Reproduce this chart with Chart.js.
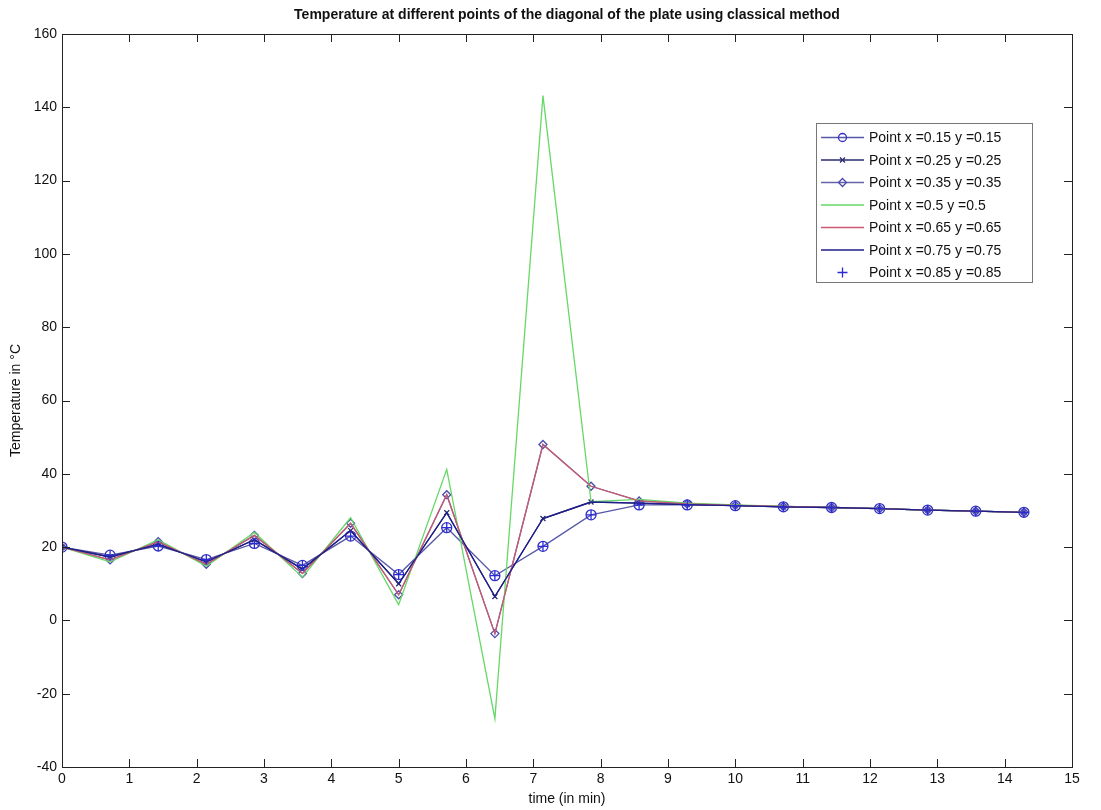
<!DOCTYPE html>
<html>
<head>
<meta charset="utf-8">
<title>Temperature at different points of the diagonal</title>
<script src="https://cdn.jsdelivr.net/npm/chart.js"></script>
<style>
  html, body { margin: 0; padding: 0; background: #fff; }
  #wrap { width: 1101px; height: 810px; }
</style>
</head>
<body>
<div id="wrap"><canvas id="plot" width="1101" height="810"></canvas></div>
<script>
// time axis (min)
const times = [0, 0.714, 1.429, 2.143, 2.857, 3.571, 4.286, 5, 5.714, 6.429, 7.143,
  7.857, 8.571, 9.286, 10, 10.714, 11.429, 12.143, 12.857, 13.571, 14.286];

// temperatures (°C)
const p015 = [20, 17.8, 20.3, 16.6, 21.0, 15.0, 23.0, 12.5, 25.3, 12.2, 20.2,
  28.8, 31.5, 31.5, 31.3, 31.0, 30.8, 30.5, 30.1, 29.8, 29.5];
const p025 = [20, 17.3, 20.8, 16.0, 22.0, 14.0, 24.5, 10.0, 29.4, 6.5, 27.8,
  32.3, 32.0, 31.6, 31.3, 31.0, 30.8, 30.5, 30.1, 29.8, 29.5];
const p035 = [20, 16.5, 21.5, 15.3, 23.2, 12.8, 26.5, 7.0, 34.3, -3.6, 48.0,
  36.6, 32.6, 31.8, 31.4, 31.1, 30.8, 30.5, 30.1, 29.8, 29.5];
const p050 = [20, 16.0, 22.0, 14.8, 24.0, 11.8, 28.0, 4.3, 41.2, -26.8, 143.2,
  32.4, 33.0, 32.0, 31.5, 31.1, 30.8, 30.5, 30.1, 29.8, 29.5];
const p065 = [20, 16.5, 21.5, 15.3, 23.2, 12.8, 26.5, 7.0, 34.3, -3.6, 48.0,
  36.6, 32.6, 31.8, 31.4, 31.1, 30.8, 30.5, 30.1, 29.8, 29.5];
const p075 = [20, 17.3, 20.8, 16.0, 22.0, 14.0, 24.5, 10.0, 29.4, 6.5, 27.8,
  32.3, 32.0, 31.6, 31.3, 31.0, 30.8, 30.5, 30.1, 29.8, 29.5];
const p085 = [20, 17.8, 20.3, 16.6, 21.0, 15.0, 23.0, 12.5, 25.3, 12.2, 20.2,
  28.8, 31.5, 31.5, 31.3, 31.0, 30.8, 30.5, 30.1, 29.8, 29.5];

const labels = [
  "Point x =0.15 y =0.15",
  "Point x =0.25 y =0.25",
  "Point x =0.35 y =0.35",
  "Point x =0.5 y =0.5",
  "Point x =0.65 y =0.65",
  "Point x =0.75 y =0.75",
  "Point x =0.85 y =0.85"
];

const FONT = '"Liberation Sans", Arial, sans-serif';

// line colour, marker colour, marker style, marker size, show line
const looks = [
  { line: "#5858a8", mark: "#3030c8", style: "circle", r: 5, showLine: true },
  { line: "#2a2a70", mark: "#2a2a70", style: "crossRot", r: 3.5, showLine: true },
  { line: "#6464a8", mark: "#4a4ab0", style: "rectRot", r: 4, showLine: true },
  { line: "#66d866", mark: "#66d866", style: false, r: 0, showLine: true },
  { line: "#c85a70", mark: "#c85a70", style: false, r: 0, showLine: true },
  { line: "#1e1e8c", mark: "#1e1e8c", style: false, r: 0, showLine: true },
  { line: "#2a2ad8", mark: "#2a2ad8", style: "cross", r: 5, showLine: false }
];

const series = [p015, p025, p035, p050, p065, p075, p085];

const datasets = series.map((vals, i) => ({
  label: labels[i],
  data: vals.map((v, k) => ({ x: times[k], y: v })),
  borderColor: looks[i].line,
  borderWidth: 1.3,
  showLine: looks[i].showLine,
  pointStyle: looks[i].style || "circle",
  pointRadius: looks[i].r,
  pointBorderColor: looks[i].mark,
  pointBackgroundColor: "rgba(0,0,0,0)",
  pointBorderWidth: 1.3,
  tension: 0,
  order: 10 - i // later series drawn on top, like MATLAB
}));

function line(ctx, x1, y1, x2, y2) {
  ctx.beginPath(); ctx.moveTo(x1, y1); ctx.lineTo(x2, y2); ctx.stroke();
}

// frame, inward ticks, titles and a MATLAB-like legend box
const matlabLook = {
  id: "matlabLook",
  afterDraw(chart) {
    const { ctx, chartArea: a, scales: { x, y } } = chart;
    ctx.save();
    ctx.strokeStyle = "#222";
    ctx.lineWidth = 1;
    ctx.strokeRect(Math.round(a.left) + 0.5, Math.round(a.top) + 0.5,
      Math.round(a.width), Math.round(a.height));

    const tl = 8;
    x.ticks.forEach(t => {
      const px = Math.round(x.getPixelForValue(t.value)) + 0.5;
      line(ctx, px, a.bottom, px, a.bottom - tl);
      line(ctx, px, a.top, px, a.top + tl);
    });
    y.ticks.forEach(t => {
      const py = Math.round(y.getPixelForValue(t.value)) + 0.5;
      line(ctx, a.left, py, a.left + tl, py);
      line(ctx, a.right, py, a.right - tl, py);
    });

    // titles
    ctx.fillStyle = "#111";
    ctx.textAlign = "center";
    ctx.textBaseline = "middle";
    ctx.font = "bold 14px " + FONT;
    ctx.fillText("Temperature at different points of the diagonal of the plate using classical method",
      (a.left + a.right) / 2, 15);
    ctx.font = "14px " + FONT;
    ctx.fillText("time (in min)", (a.left + a.right) / 2, 799);
    ctx.save();
    ctx.translate(16, (a.top + a.bottom) / 2);
    ctx.rotate(-Math.PI / 2);
    ctx.fillText("Temperature in °C", 0, 0);
    ctx.restore();

    // legend
    const bx = 816, by = 123, bw = 216, bh = 159;
    ctx.fillStyle = "#fff";
    ctx.fillRect(bx, by, bw, bh);
    ctx.strokeStyle = "#777";
    ctx.strokeRect(bx + 0.5, by + 0.5, bw, bh);
    ctx.font = "14px " + FONT;
    ctx.textAlign = "left";
    labels.forEach((lab, i) => {
      const ly = 137.5 + i * 22.5;
      const lk = looks[i];
      ctx.lineWidth = 1.3;
      if (lk.showLine) {
        ctx.strokeStyle = lk.line;
        line(ctx, 821, ly, 864, ly);
      }
      if (lk.style) {
        ctx.strokeStyle = lk.mark;
        ctx.fillStyle = "rgba(0,0,0,0)";
        Chart.helpers.drawPoint(ctx, {
          pointStyle: lk.style, radius: lk.style === "circle" ? 4 : lk.r, rotation: 0, borderWidth: 1.3
        }, 842.5, ly);
      }
      ctx.fillStyle = "#111";
      ctx.fillText(lab, 869, ly + 1);
    });
    ctx.restore();
  }
};

new Chart(document.getElementById("plot"), {
  type: "scatter",
  data: { datasets },
  options: {
    responsive: false,
    animation: false,
    layout: { padding: { left: 0, right: 29, top: 34, bottom: 0 } },
    plugins: {
      legend: { display: false },
      title: { display: false },
      tooltip: { enabled: false }
    },
    scales: {
      x: {
        type: "linear",
        min: 0,
        max: 15,
        ticks: { stepSize: 1, padding: 4, color: "#111", font: { family: FONT, size: 14 } },
        grid: { display: false, drawTicks: false },
        border: { display: false },
        afterFit: s => { s.height = 43; }
      },
      y: {
        type: "linear",
        min: -40,
        max: 160,
        ticks: { stepSize: 20, padding: 5, color: "#111", font: { family: FONT, size: 14 } },
        grid: { display: false, drawTicks: false },
        border: { display: false },
        afterFit: s => { s.width = 62; }
      }
    }
  },
  plugins: [matlabLook]
});
</script>
</body>
</html>
